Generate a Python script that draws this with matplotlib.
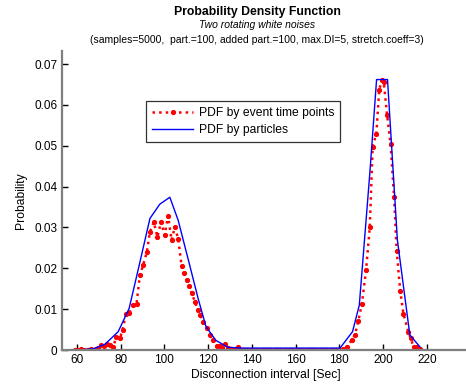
import matplotlib
matplotlib.use("Agg")
import matplotlib.pyplot as plt

plt.rcParams['font.family'] = ['Liberation Sans', 'DejaVu Sans']

# PDF by event time points (red dotted, markers)
red_x = [59.0, 60.5, 62.0, 63.5, 65.0, 66.5, 68.0, 69.5, 71.0, 72.5, 74.0, 75.3, 76.6,
         78.1, 79.7, 80.9, 82.4, 84.0, 85.6, 87.3, 88.8, 90.3, 92.0, 93.4, 95.2, 96.8,
         98.5, 100.1, 101.7, 103.3, 104.8, 106.3, 107.9, 109.2, 110.4, 111.4, 112.5,
         114.0, 115.4, 116.3, 117.7, 119.3, 120.8, 122.3, 123.9, 125.3, 126.5, 127.7,
         129.0, 130.5, 132.0, 133.5, 135.0, 136.5, 138.0, 139.5, 141.0, 142.5, 144.0,
         145.5, 147.0, 148.5, 150.0, 151.5, 153.0, 154.5, 156.0, 157.5, 159.0, 160.5,
         162.0, 163.5, 165.0, 166.5, 168.0, 169.5, 171.0, 172.5, 174.0, 175.5, 177.0,
         178.5, 180.0, 181.5, 183.3, 185.6, 187.1, 188.6, 190.3, 192.2, 193.9, 195.2,
         196.9, 198.2, 199.3, 200.3, 201.8, 203.4, 205.0, 206.2, 207.8, 209.3, 211.5,
         212.6, 213.9, 215.3, 216.8]
red_y = [0.0001, 0.0001, 0.0002, 0.0000, 0.0001, 0.0003, 0.0001, 0.0006, 0.0012, 0.0010,
         0.0016, 0.0012, 0.0007, 0.0033, 0.0029, 0.0049, 0.0088, 0.0091, 0.0110, 0.0114,
         0.0183, 0.0208, 0.0240, 0.0289, 0.0313, 0.0277, 0.0314, 0.0281, 0.0329, 0.0269,
         0.0301, 0.0273, 0.0205, 0.0188, 0.0171, 0.0158, 0.0139, 0.0118, 0.0098, 0.0087,
         0.0069, 0.0053, 0.0037, 0.0025, 0.0010, 0.0009, 0.0004, 0.0016, 0.0005, 0.0003,
         0.0001, 0.0008, 0.0001, 0.0000, 0.0000, 0.0000, 0.0000, 0.0000, 0.0000, 0.0000,
         0.0000, 0.0000, 0.0000, 0.0000, 0.0000, 0.0000, 0.0000, 0.0000, 0.0000, 0.0000,
         0.0000, 0.0000, 0.0000, 0.0000, 0.0000, 0.0000, 0.0000, 0.0000, 0.0000, 0.0000,
         0.0000, 0.0000, 0.0000, 0.0002, 0.0008, 0.0024, 0.0037, 0.0070, 0.0114, 0.0196,
         0.0302, 0.0498, 0.0530, 0.0636, 0.0660, 0.0655, 0.0575, 0.0504, 0.0375, 0.0243,
         0.0145, 0.0088, 0.0045, 0.0029, 0.0008, 0.0007, 0.0002]

# PDF by particles (blue solid)
blue_x = [53.0, 62.0, 67.3, 72.8, 78.9, 83.9, 88.7, 93.4, 97.9, 102.5, 106.3, 111.0,
          115.5, 119.0, 123.5, 129.0, 135.0, 180.3, 186.0, 189.1, 193.9, 197.0, 202.0,
          206.5, 212.2, 216.8]
blue_y = [0.0001, 0.0001, 0.0003, 0.0014, 0.0045, 0.0102, 0.0212, 0.0322, 0.0357,
          0.0374, 0.0318, 0.0220, 0.0125, 0.0058, 0.0024, 0.0007, 0.0005, 0.0005,
          0.0045, 0.0110, 0.0432, 0.0662, 0.0662, 0.0270, 0.0037, 0.0008]

x_ticks = [60, 80, 100, 120, 140, 160, 180, 200, 220]
y_ticks = [0, 0.01, 0.02, 0.03, 0.04, 0.05, 0.06, 0.07]
y_tick_labels = ['0', '0.01', '0.02', '0.03', '0.04', '0.05', '0.06', '0.07']

fig = plt.figure(figsize=(4.66, 3.86), dpi=100)
ax = fig.add_axes([0.132, 0.093, 0.878, 0.775])

ax.plot(red_x, red_y, ':', color='red', lw=1.8, marker='.', markersize=5.5,
        label='PDF by event time points')
ax.plot(blue_x, blue_y, '-', color='blue', lw=1, label='PDF by particles')

ax.set_xlim(53, 240)
ax.set_ylim(0, 0.0732)
ax.set_xticks(x_ticks)
ax.set_yticks(y_ticks)
ax.set_yticklabels(y_tick_labels)
ax.tick_params(direction='in', length=4, width=1, labelsize=8.5, color='black', pad=3)

for side in ['top', 'right']:
    ax.spines[side].set_visible(False)
for side in ['left', 'bottom']:
    ax.spines[side].set_color('#7f7f7f')
    ax.spines[side].set_linewidth(1.6)

ax.set_xlabel('Disconnection interval [Sec]', fontsize=8.7, labelpad=2)
ax.set_ylabel('Probability', fontsize=8.7, labelpad=5)

leg = ax.legend(loc='upper left', bbox_to_anchor=(0.207, 0.833), fontsize=8.7,
                fancybox=False, frameon=True, handlelength=3.4, handletextpad=0.45,
                borderpad=0.5, borderaxespad=0, labelspacing=0.4, numpoints=1)
leg.get_frame().set_edgecolor('black')
leg.get_frame().set_linewidth(0.9)

fig.text(0.552, 0.968, 'Probability Density Function', ha='center', va='center',
         fontsize=8.8, fontweight='bold')
fig.text(0.552, 0.935, 'Two rotating white noises', ha='center', va='center',
         fontsize=7.5, style='italic')
fig.text(0.552, 0.897, '(samples=5000,  part.=100, added part.=100, max.DI=5, stretch.coeff=3)',
         ha='center', va='center', fontsize=7.5)

fig.savefig('out.png', dpi=100)
